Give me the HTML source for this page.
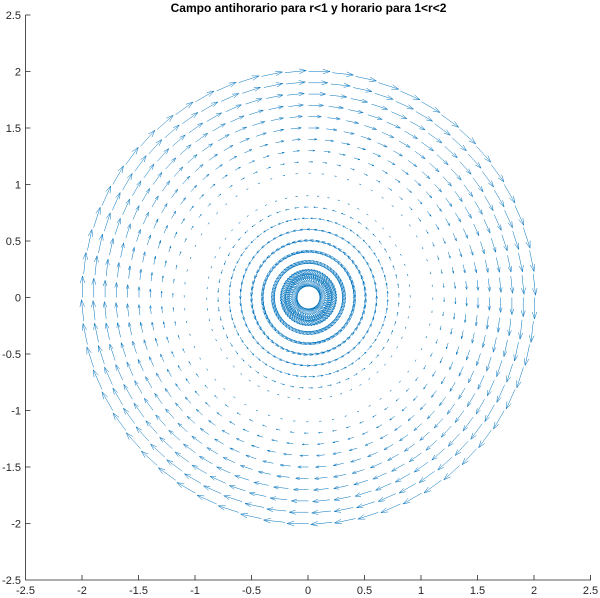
<!DOCTYPE html>
<html><head><meta charset="utf-8"><style>
html,body{margin:0;padding:0;background:#fff;}
svg{display:block;font-family:"Liberation Sans",Arial,sans-serif;}
</style></head><body>
<svg id="s" width="600" height="598" viewBox="0 0 600 598" xmlns="http://www.w3.org/2000/svg">
<rect width="600" height="598" fill="#fff"/>
<text x="308.5" y="12" text-anchor="middle" font-size="12" font-weight="bold" fill="#000">Campo antihorario para r&lt;1 y horario para 1&lt;r&lt;2</text>
<g id="q" fill="none" stroke="#0072BD" stroke-width="0.5"></g>
<g id="ax" stroke="#262626" stroke-width="0.8" fill="none"></g>
<g id="lb" font-size="11" fill="#262626"></g>
</svg>
<script>
var X0=308.5,Y0=297.5,S=113,NS="http://www.w3.org/2000/svg";
var d="";
var sc=0.19;
function P(px,py){return (X0+px*S).toFixed(1)+" "+(Y0-py*S).toFixed(1);}
for(var i=1;i<=20;i++){var r=i*0.1;var m=Math.abs(r-1);var sg=r<1?1:-1;
 for(var k=0;k<60;k++){var t=k*2*Math.PI/60;
  var x=r*Math.cos(t),y=r*Math.sin(t);
  var u=-Math.sin(t)*m*sg*sc,v=Math.cos(t)*m*sg*sc;
  var a=0.33,b=0.33;
  var x2=x+u,y2=y+v;
  var h1x=x2-a*(u+b*v),h1y=y2-a*(v-b*u);
  var h2x=x2-a*(u-b*v),h2y=y2-a*(v+b*u);
  d+="M"+P(x,y)+"L"+P(x2,y2)+"M"+P(h1x,h1y)+"L"+P(x2,y2)+"L"+P(h2x,h2y);
 }}
var p=document.createElementNS(NS,"path");p.setAttribute("d",d);document.getElementById("q").appendChild(p);
var ax=document.getElementById("ax"),lb=document.getElementById("lb");
var ad="M25.5 15V580H591";
for(var j=0;j<=10;j++){var val=-2.5+j*0.5;var px=25.5+j*56.5;var py=580-j*56.5;
 ad+="M"+px+" 580v-5M25.5 "+py+"h5";
 var s=(Math.abs(val)<1e-9)?"0":String(val);
 var t1=document.createElementNS(NS,"text");t1.setAttribute("x",px);t1.setAttribute("y",594);t1.setAttribute("text-anchor","middle");t1.textContent=s;lb.appendChild(t1);
 var t2=document.createElementNS(NS,"text");t2.setAttribute("x",21);t2.setAttribute("y",py+4);t2.setAttribute("text-anchor","end");t2.textContent=s;lb.appendChild(t2);
}
var a2=document.createElementNS(NS,"path");a2.setAttribute("d",ad);ax.appendChild(a2);
</script>
</body></html>
